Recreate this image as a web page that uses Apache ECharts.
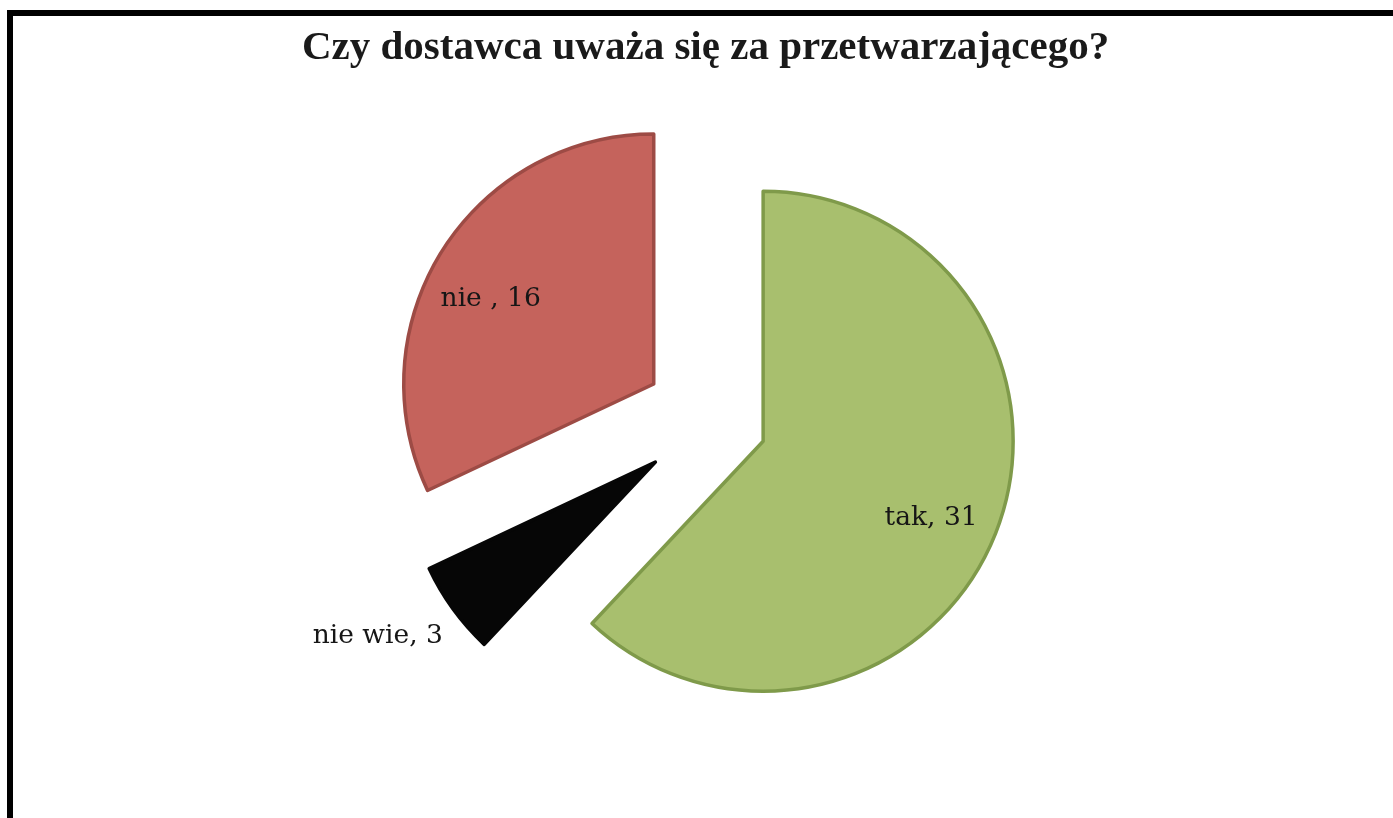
<!DOCTYPE html>
<html>
<head>
<meta charset="utf-8">
<script src="https://cdn.jsdelivr.net/npm/echarts@6/dist/echarts.min.js"></script>
<style>
  html, body { margin: 0; padding: 0; background: #fff; }
  #chart { width: 1393px; height: 818px; }
</style>
</head>
<body>
<div id="chart"></div>
<script>
const titleText = "Czy dostawca uważa się za przetwarzającego?";
const categories = ["tak", "nie wie", "nie "];
const values = [31, 3, 16];
const sliceColors = ["#a8bf6e", "#060606", "#c5635c"];
const borderColors = ["#7f9a4a", "#060606", "#9d4b45"];
// how far each slice is pulled out of the pie
const explode = [55, 70, 69];
// label nudges from the default inside position
const labelShift = [[49, 30], [-174, 99], [-55, -16]];

const chart = echarts.init(document.getElementById("chart"));

// one pie series per slice so every slice can have its own pull-out distance
const series = categories.map(function (name, k) {
  return {
    type: "pie",
    center: [712, 421],
    radius: 250,
    startAngle: 90,
    clockwise: true,
    animation: false,
    silent: true,
    avoidLabelOverlap: false,
    selectedMode: "multiple",
    selectedOffset: explode[k],
    emphasis: { disabled: true },
    label: {
      show: true,
      position: "inside",
      formatter: "{b}, {c}",
      fontFamily: "DejaVu Serif",
      fontSize: 26.5,
      color: "#161616"
    },
    labelLine: { show: false },
    labelLayout: { dx: labelShift[k][0], dy: labelShift[k][1] },
    data: categories.map(function (c, i) {
      const mine = i === k;
      return {
        name: c,
        value: values[i],
        selected: mine,
        itemStyle: mine
          ? { color: sliceColors[i], borderColor: borderColors[i], borderWidth: 3.5 }
          : { color: "transparent", borderWidth: 0 },
        label: { show: mine }
      };
    })
  };
});

chart.setOption({
  backgroundColor: "#fff",
  title: {
    text: titleText,
    left: 297,
    top: 23,
    textStyle: {
      fontFamily: "Liberation Serif",
      fontWeight: "bold",
      fontSize: 41,
      color: "#1a1a1a"
    }
  },
  graphic: [
    {
      type: "rect",
      shape: { x: 10, y: 13, width: 2000, height: 2000 },
      style: { fill: "none", stroke: "#000", lineWidth: 6 }
    }
  ],
  series: series
});
</script>
</body>
</html>
